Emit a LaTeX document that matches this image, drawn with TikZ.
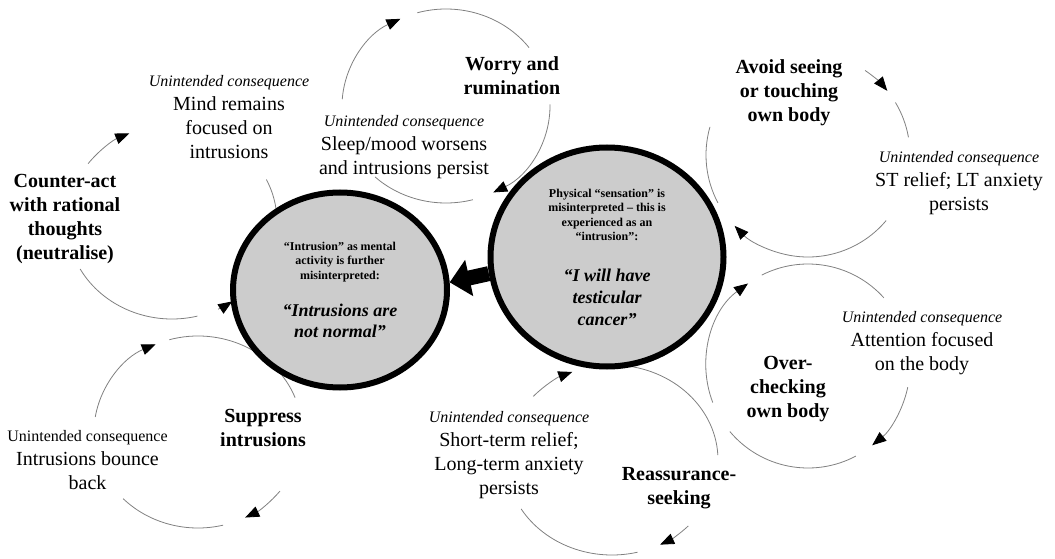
\documentclass[tikz,border=0pt]{standalone}
\usepackage{fontspec}
\setmainfont{Liberation Serif}
\usetikzlibrary{arrows.meta,shapes.geometric}

\newcommand{\consq}{\fontsize{16}{24}\selectfont\itshape}
\newcommand{\consqup}{\fontsize{16}{24}\selectfont}
\newcommand{\thought}{\fontsize{12}{14.5}\selectfont\bfseries}
\newcommand{\belieftext}{\fontsize{18}{21.5}\selectfont\bfseries\itshape}

\tikzset{
  cyc/.style={draw=black!50, line width=0.8pt},
  cyctip/.style={cyc, -{Triangle[length=14pt,width=11pt,color=black]}},
  belief/.style={ellipse, draw=black, line width=6pt, fill=black!20, inner sep=0pt, align=center,
    font=\fontsize{12}{14.5}\selectfont},
  act/.style={align=center, inner sep=0pt, font=\fontsize{20}{24}\selectfont\bfseries},
  conseq/.style={align=center, inner sep=0pt, font=\fontsize{20}{24}\selectfont},
  push/.style={line width=15pt, -{Triangle[length=20pt,width=36pt]}}
}

\begin{document}
\begin{tikzpicture}[x=1pt,y=1pt]
  \useasboundingbox (0,0) rectangle (1055,-559);

  % loops
  \begin{scope}[shift={(446,-106)}, x radius=104, y radius=97]
    \draw[cyctip] (176:104 and 97) arc[start angle=176, end angle=116];
    \draw[cyc] (106:104 and 97) arc[start angle=106, end angle=37];
    \draw[cyctip] (1:104 and 97) arc[start angle=1, end angle=-63];
    \draw[cyc] (227:104 and 97) arc[start angle=227, end angle=285];
  \end{scope}
  \begin{scope}[shift={(172,-222)}, x radius=105, y radius=97]
    \draw[cyctip] (143:105 and 97) arc[start angle=143, end angle=114];
    \draw[cyc] (26:105 and 97) arc[start angle=26, end angle=-5];
    \draw[cyc] (209:105 and 97) arc[start angle=209, end angle=284];
    \draw[cyctip] (296:105 and 97) arc[start angle=296, end angle=305];
  \end{scope}
  \begin{scope}[shift={(198,-432)}, x radius=104, y radius=96]
    \draw[cyctip] (171:104 and 96) arc[start angle=171, end angle=114];
    \draw[cyc] (106:104 and 96) arc[start angle=106, end angle=21];
    \draw[cyctip] (-38:104 and 96) arc[start angle=-38, end angle=-63];
    \draw[cyc] (224:104 and 96) arc[start angle=224, end angle=284];
  \end{scope}
  \begin{scope}[shift={(808,-155)}, radius=102]
    \draw[cyctip] (56:102) arc[start angle=56, end angle=39];
    \draw[cyc] (31:102) arc[start angle=31, end angle=10];
    \draw[cyctip] (-40:102) arc[start angle=-40, end angle=-136];
    \draw[cyc] (164:102) arc[start angle=164, end angle=208];
  \end{scope}
  \begin{scope}[shift={(808,-366)}, radius=102]
    \draw[cyctip] (201:102) arc[start angle=201, end angle=126];
    \draw[cyc] (117:102) arc[start angle=117, end angle=42];
    \draw[cyctip] (-12:102) arc[start angle=-12, end angle=-51];
    \draw[cyc] (220:102) arc[start angle=220, end angle=298];
  \end{scope}
  \begin{scope}[shift={(612,-460)}, x radius=106, y radius=95]
    \draw[cyctip] (138:106 and 95) arc[start angle=138, end angle=112];
    \draw[cyc] (90:106 and 95) arc[start angle=90, end angle=3];
    \draw[cyctip] (-44:106 and 95) arc[start angle=-44, end angle=-63];
    \draw[cyc] (211:106 and 95) arc[start angle=211, end angle=284];
  \end{scope}

  % beliefs
  \node[belief, minimum width=214pt, minimum height=195pt] (intr) at (340,-290)
    {\thought “Intrusion” as mental\\\thought activity is further\\\thought misinterpreted:\\[21pt]
     \belieftext “Intrusions are\\[7pt]\belieftext not normal”};
  \node[belief, minimum width=233pt, minimum height=219pt] (phys) at (607,-257)
    {\thought Physical “sensation” is\\\thought misinterpreted – this is\\\thought experienced as an\\\thought “intrusion”:\\[26pt]
     \belieftext “I will have\\[8pt]\belieftext testicular\\[7pt]\belieftext cancer”};
  \draw[push] (phys.188) -- (intr.4);

  % behaviours
  \node[act] (worry) at (512,-76) {Worry and\\rumination};
  \node[act] (counter) at (65,-219.5) {Counter-act\\with rational\\thoughts\\(neutralise)};
  \node[act] (suppress) at (263,-428) {Suppress\\intrusions};
  \node[act] (avoid) at (789,-93) {Avoid seeing\\or touching\\own body};
  \node[act] (overcheck) at (788,-389) {Over-\\checking\\own body};
  \node[act] (reassure) at (679,-488) {Reassurance-\\seeking};

  % consequences
  \node[conseq] (sleep) at (404,-147) {{\consq Unintended consequence}\\Sleep/mood worsens\\and intrusions persist};
  \node[conseq] (mind) at (229,-117) {{\consq Unintended consequence}\\Mind remains\\focused on\\intrusions};
  \node[conseq] (bounce) at (87.5,-460) {{\consqup Unintended consequence}\\Intrusions bounce\\back};
  \node[conseq] (strelief) at (959,-183) {{\consq Unintended consequence}\\ST relief; LT anxiety\\persists};
  \node[conseq] (attention) at (922,-343) {{\consq Unintended consequence}\\Attention focused\\on the body};
  \node[conseq] (shortterm) at (509,-455) {{\consq Unintended consequence}\\Short-term relief;\\Long-term anxiety\\persists};
\end{tikzpicture}
\end{document}
